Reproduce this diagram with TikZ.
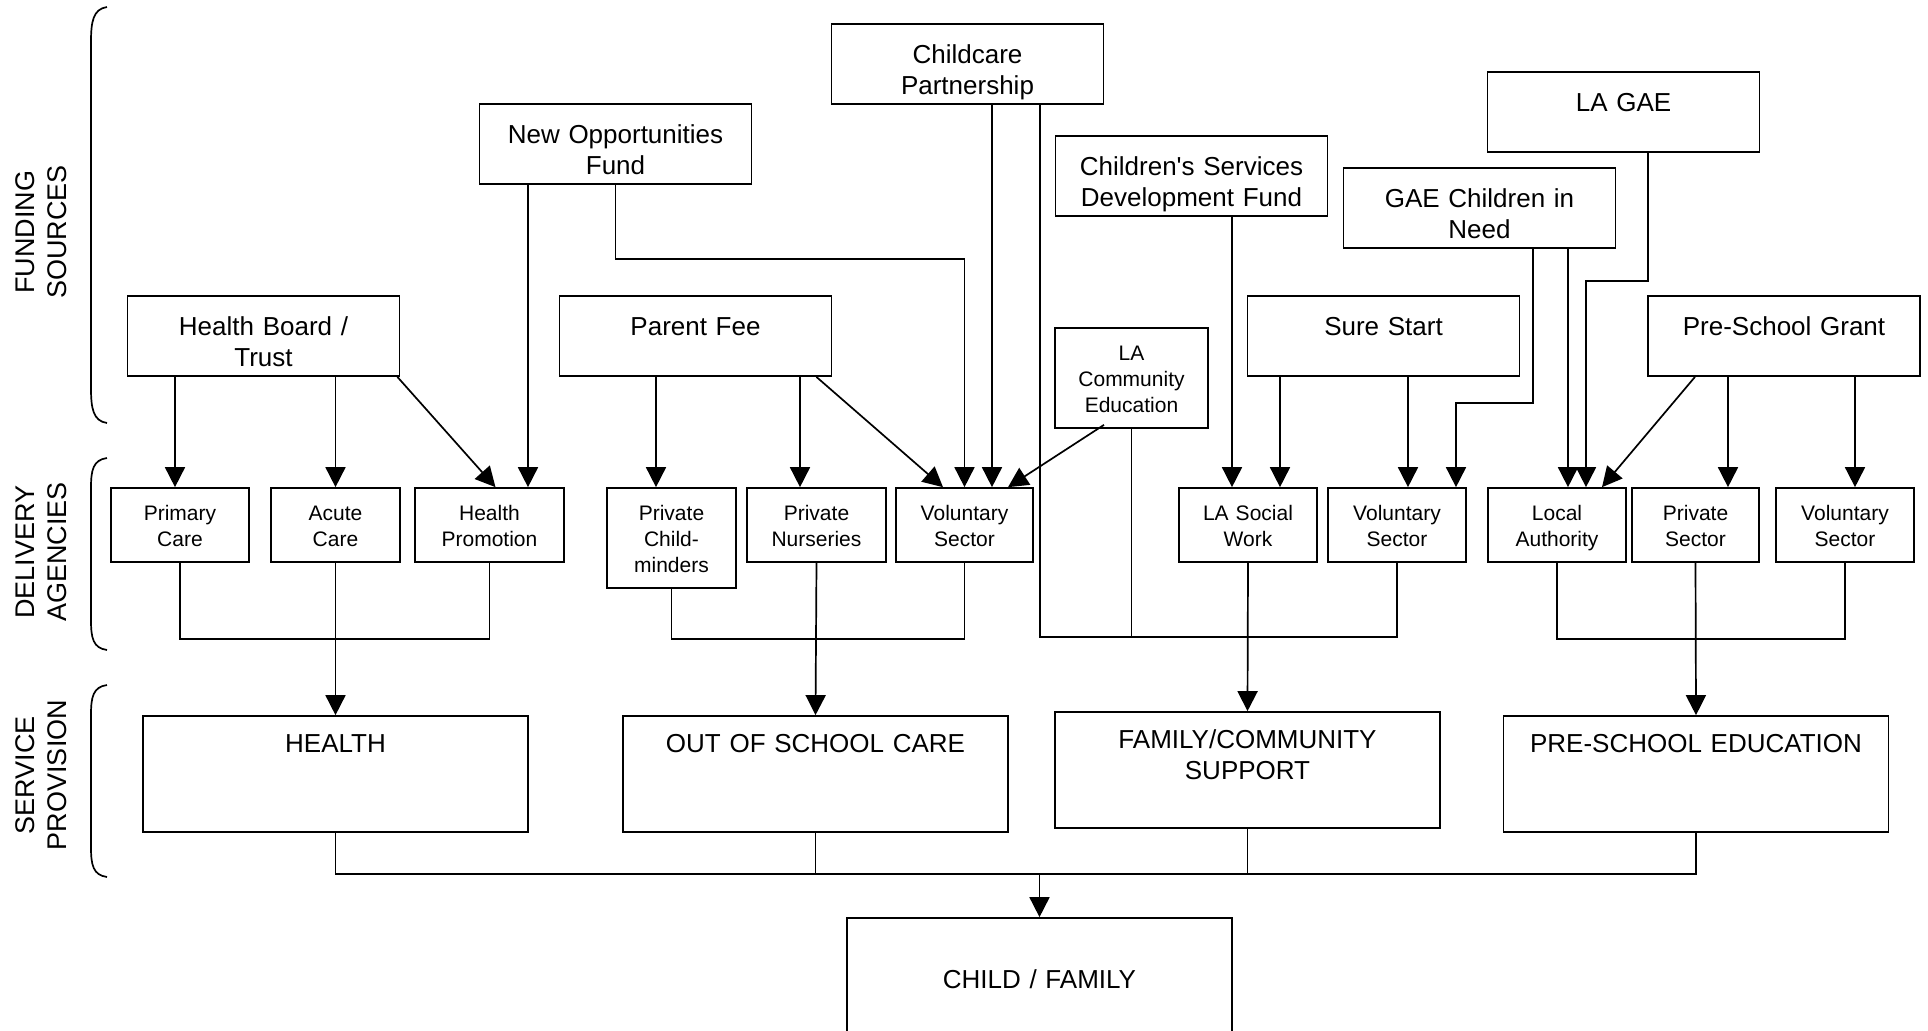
\documentclass[tikz,border=0pt]{standalone}
\usepackage{fontspec}
\setmainfont{Liberation Sans}
\usepackage{tikz}
\usetikzlibrary{arrows.meta}

\newcommand\bigtxt{\fontsize{13pt}{15.5pt}\selectfont}
\newcommand\smalltxt{\fontsize{10.5pt}{13pt}\selectfont}
\newcommand\sidetxt{\fontsize{13.5pt}{16pt}\selectfont}

\begin{document}
\begin{tikzpicture}[
        x=0.5pt, y=-0.5pt, line width=0.85pt,
        fund/.style={draw, align=center, inner sep=0pt, text width=136pt,
                     text height=19.5pt, text depth=20.5pt, font=\bigtxt},
        agency/.style={draw, align=center, inner sep=0pt, text width=#1,
                       text height=16.25pt, text depth=20.75pt, font=\smalltxt},
        service/.style={draw, align=center, inner sep=0pt, text width=192.5pt,
                        text height=18pt, text depth=40pt, font=\bigtxt},
        side/.style={align=center, rotate=90, font=\sidetxt},
        arr/.style={-{Triangle[width=10pt,length=10pt]}}
    ]
        \useasboundingbox (0,0) rectangle (1928,1030);
        \clip (0,0) rectangle (1928,1030);

        % side labels and brackets
        \node[side] (fundlbl)  at (41,232) {FUNDING\\SOURCES};
        \node[side] (delivlbl) at (41,552) {DELIVERY\\AGENCIES};
        \node[side] (servlbl)  at (41,775) {SERVICE\\PROVISION};
        \draw (107,7) .. controls (93,9) and (91,22) .. (91,42) -- (91,388)
              .. controls (91,408) and (93,421) .. (107,423);
        \draw (107,458) .. controls (93,460) and (91,470) .. (91,488) -- (91,620)
              .. controls (91,638) and (93,648) .. (107,650);
        \draw (107,685) .. controls (93,687) and (91,697) .. (91,715) -- (91,847)
              .. controls (91,865) and (93,875) .. (107,877);

        % funding sources
        \node[fund] (hb)    at (263.5,336) {Health Board /\\Trust};
        \node[fund] (nof)   at (615.5,144) {New Opportunities\\Fund};
        \node[fund] (pf)    at (695.5,336) {Parent Fee};
        \node[fund] (cp)    at (967.5,64)  {Childcare\\Partnership};
        \node[fund] (csdf)  at (1191.5,176) {Children\textquotesingle s Services\\Development Fund};
        \node[fund] (lagae) at (1623.5,112) {LA GAE};
        \node[fund] (gcin)  at (1479.5,208) {GAE Children in\\Need};
        \node[fund] (ss)    at (1383.5,336) {Sure Start};
        \node[fund] (psg)   at (1784,336)   {Pre-School Grant};
        \node[agency=76.5pt, text depth=33.75pt] (lace) at (1131.5,378)
            {LA\\Community\\Education};

        % delivery agencies
        \node[agency=69pt]   (pc)   at (180,525)    {Primary\\Care};
        \node[agency=64.5pt] (ac)   at (335.5,525)  {Acute\\Care};
        \node[agency=74.5pt] (hp)   at (489.5,525)  {Health\\Promotion};
        \node[agency=64.5pt, text depth=33.75pt] (pcm) at (671.5,538)
            {Private\\Child-\\minders};
        \node[agency=69.5pt] (pn)   at (816.5,525)  {Private\\Nurseries};
        \node[agency=68.5pt] (vs1)  at (964.5,525)  {Voluntary\\Sector};
        \node[agency=69pt]   (lasw) at (1248,525)   {LA Social\\Work};
        \node[agency=69pt]   (vs2)  at (1397,525)   {Voluntary\\Sector};
        \node[agency=69pt]   (la)   at (1557,525)   {Local\\Authority};
        \node[agency=63.5pt] (ps)   at (1695.5,525) {Private\\Sector};
        \node[agency=69pt]   (vs3)  at (1845,525)   {Voluntary\\Sector};

        % service provision
        \node[service] (health) at (335.5,774)  {HEALTH};
        \node[service] (oosc)   at (815.5,774)  {OUT OF SCHOOL CARE};
        \node[service] (fcs)    at (1247.5,770) {FAMILY/COMMUNITY\\SUPPORT};
        \node[service] (pse)    at (1696,774)   {PRE-SCHOOL EDUCATION};
        \node[service, text height=35pt, text depth=36pt] (child) at (1039.5,989)
            {CHILD / FAMILY};

        % funding -> delivery
        \coordinate (pc-in)  at ([xshift=-2.5pt]pc.north);
        \coordinate (hp-in)  at ([xshift=19.25pt]hp.north);
        \coordinate (pcm-in) at ([xshift=-7.75pt]pcm.north);
        \coordinate (pn-in)  at ([xshift=-8.25pt]pn.north);
        \coordinate (vs1-in) at ([xshift=13.75pt]vs1.north);
        \draw[arr] (hb.south -| pc-in) -- (pc-in);
        \draw[arr] (hb.south -| ac.north) -- (ac.north);
        \draw[arr] ([xshift=-1.5pt]hb.south east) -- ([xshift=3pt]hp.north);
        \draw[arr] (nof.south -| hp-in) -- (hp-in);
        \draw[arr] (nof.south) -- ++(0,74) -| (vs1.north);
        \draw[arr] (pf.south -| pcm-in) -- (pcm-in);
        \draw[arr] (pf.south -| pn-in) -- (pn-in);
        \draw[arr] ([xshift=-8pt]pf.south east) -- ([xshift=-10.75pt]vs1.north);
        \draw[arr] (cp.south -| vs1-in) -- (vs1-in);
        \draw[arr] ([xshift=-13.75pt,yshift=2pt]lace.south) -- ([xshift=21.75pt]vs1.north);

        \coordinate (lasw-in1) at ([xshift=-8pt]lasw.north);
        \coordinate (lasw-in2) at ([xshift=16pt]lasw.north);
        \coordinate (vs2-in)   at ([xshift=5.5pt]vs2.north);
        \coordinate (la-in)    at ([xshift=5.5pt]la.north);
        \coordinate (ps-in)    at ([xshift=16.25pt]ps.north);
        \coordinate (vs3-in)   at ([xshift=5pt]vs3.north);
        \draw[arr] (csdf.south -| lasw-in1) -- (lasw-in1);
        \draw[arr] (ss.south -| lasw-in2) -- (lasw-in2);
        \draw[arr] (ss.south -| vs2-in) -- (vs2-in);
        \draw[arr] ([xshift=26.75pt]gcin.south) -- ++(0,154) -| ([xshift=29.5pt]vs2.north);
        \draw[arr] (gcin.south -| la-in) -- (la-in);
        \draw[arr] ([xshift=12.25pt]lagae.south) -- ++(0,128) -| ([xshift=14.5pt]la.north);
        \draw[arr] ([xshift=-44.5pt]psg.south) -- ([xshift=22.5pt]la.north);
        \draw[arr] (psg.south -| ps-in) -- (ps-in);
        \draw[arr] (psg.south -| vs3-in) -- (vs3-in);

        % delivery -> service
        \draw (pc.south) -- ++(0,76) -| (hp.south);
        \draw[arr] (ac.south) -- (health.north);
        \draw (pcm.south) -- ++(0,50) -| (vs1.south);
        \draw[arr] (pn.south) -- (oosc.north);
        \draw ([xshift=36.25pt]cp.south) |- ([yshift=-37pt]vs2.south) -- (vs2.south);
        \draw (lace.south) -- ++(0,208);
        \draw[arr] (lasw.south) -- (fcs.north);
        \draw (la.south) -- ++(0,76) -| (vs3.south);
        \draw[arr] (ps.south) -- (pse.north);

        % service -> child / family
        \coordinate (bus) at ([yshift=-20.5pt]health.south);
        \draw (health.south) -- (bus) -| (pse.south);
        \draw (oosc.south) -- (oosc.south |- bus);
        \draw (fcs.south) -- (fcs.south |- bus);
        \draw[arr] (bus -| child.north) -- (child.north);
    \end{tikzpicture}
\end{document}
